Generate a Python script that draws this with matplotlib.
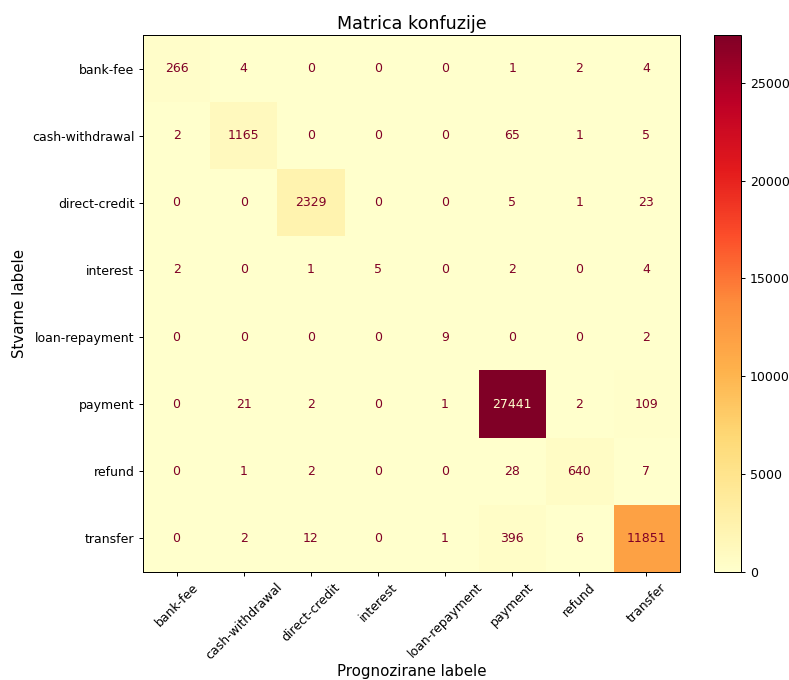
import numpy as np
import matplotlib
matplotlib.use("Agg")
import matplotlib.pyplot as plt

labels = ["bank-fee", "cash-withdrawal", "direct-credit", "interest",
          "loan-repayment", "payment", "refund", "transfer"]

row_bank_fee = [266, 4, 0, 0, 0, 1, 2, 4]
row_cash_withdrawal = [2, 1165, 0, 0, 0, 65, 1, 5]
row_direct_credit = [0, 0, 2329, 0, 0, 5, 1, 23]
row_interest = [2, 0, 1, 5, 0, 2, 0, 4]
row_loan_repayment = [0, 0, 0, 0, 9, 0, 0, 2]
row_payment = [0, 21, 2, 0, 1, 27441, 2, 109]
row_refund = [0, 1, 2, 0, 0, 28, 640, 7]
row_transfer = [0, 2, 12, 0, 1, 396, 6, 11851]

cm = np.array([row_bank_fee, row_cash_withdrawal, row_direct_credit, row_interest,
               row_loan_repayment, row_payment, row_refund, row_transfer])

DPI = 90
fig = plt.figure(figsize=(789 / DPI, 680 / DPI), dpi=DPI)
ax = fig.add_axes([143 / 789, 1 - 572 / 680, 537 / 789, 537 / 680])
cax = fig.add_axes([714 / 789, 1 - 572 / 680, 27 / 789, 537 / 680])

cmap = plt.get_cmap("YlOrRd")
im = ax.imshow(cm, interpolation="nearest", cmap=cmap, aspect="auto")
cmap_min, cmap_max = cmap(0), cmap(1.0)
thresh = (cm.max() + cm.min()) / 2.0
n = len(labels)
for i in range(n):
    for j in range(n):
        color = cmap_max if cm[i, j] < thresh else cmap_min
        ax.text(j, i, str(cm[i, j]), ha="center", va="center", color=color, fontsize=10)

cb = fig.colorbar(im, cax=cax)
cb.ax.tick_params(labelsize=10)
ax.set_xticks(range(n))
ax.set_yticks(range(n))
ax.set_xticklabels(labels, rotation=45, fontsize=10)
ax.set_yticklabels(labels, fontsize=10)
ax.set_xlim(-0.5, n - 0.5)
ax.set_ylim(n - 0.5, -0.5)
ax.set_title("Matrica konfuzije", fontsize=14, pad=5)
ax.set_xlabel("Prognozirane labele", fontsize=12, labelpad=1)
ax.set_ylabel("Stvarne labele", fontsize=12)

fig.savefig("out.png", dpi=DPI)
